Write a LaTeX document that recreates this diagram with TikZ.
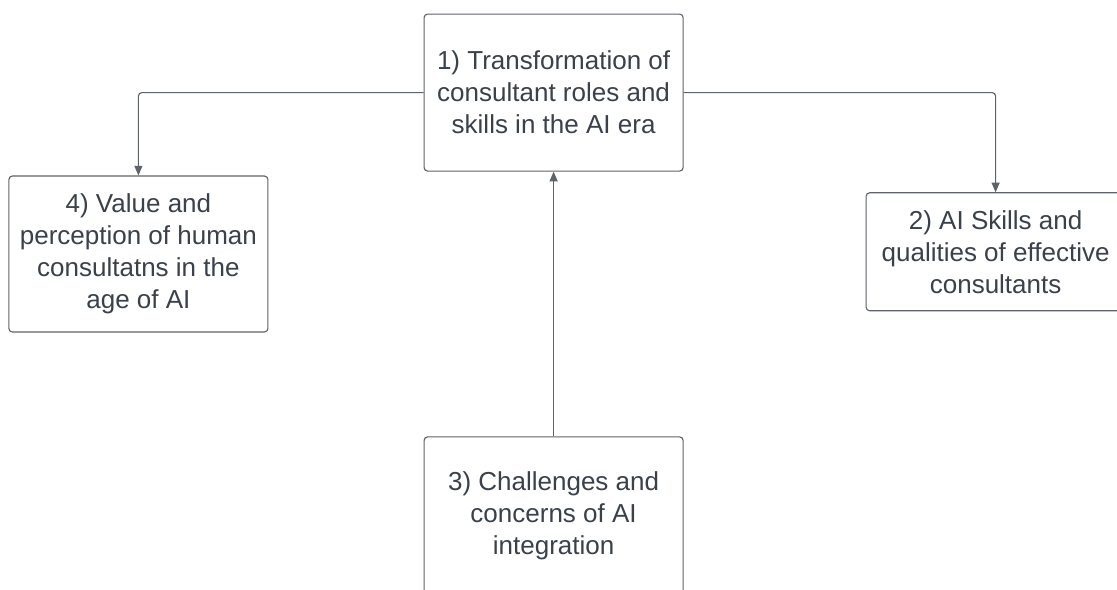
\documentclass[tikz,border=0pt]{standalone}
\usepackage{fontspec}
\setmainfont{Liberation Sans}
\usetikzlibrary{arrows.meta}

\definecolor{inkgray}{HTML}{3A414A}
\definecolor{linegray}{HTML}{5E636B}

\begin{document}
\begin{tikzpicture}[
        -{Triangle[length=0.24cm, width=0.2cm]}, line width=0.8pt,
        topic/.style={draw=linegray, fill=white, rounded corners=2.5pt,
                align=center, text=inkgray, minimum width=6.475cm},
        every node/.style={font=\fontsize{18.5}{22.7}\selectfont}
    ]
    \clip (0,0) rectangle (27.925,14.725);
    \fill[white] (0,0) rectangle (27.925,14.725);

    \node[topic, minimum height=3.925cm] (roles) at (13.84,12.41)
        {1) Transformation of\\consultant roles and\\skills in the AI era};
    \node[topic, minimum height=3.9cm] (value) at (3.46,8.375)
        {4) Value and\\perception of human\\consultatns in the\\age of AI};
    \node[topic, minimum height=2.95cm] (qualities) at (24.89,8.43)
        {2) AI Skills and\\qualities of effective\\consultants};
    \node[topic, minimum height=3.925cm] (challenges) at (13.84,1.84)
        {3) Challenges and\\concerns of AI\\integration};

    \draw[linegray, rounded corners=2.5pt] (roles.west) -| (value.north);
    \draw[linegray, rounded corners=2.5pt] (roles.east) -| (qualities.north);
    \draw[linegray] (challenges.north) -- (roles.south);
\end{tikzpicture}
\end{document}
